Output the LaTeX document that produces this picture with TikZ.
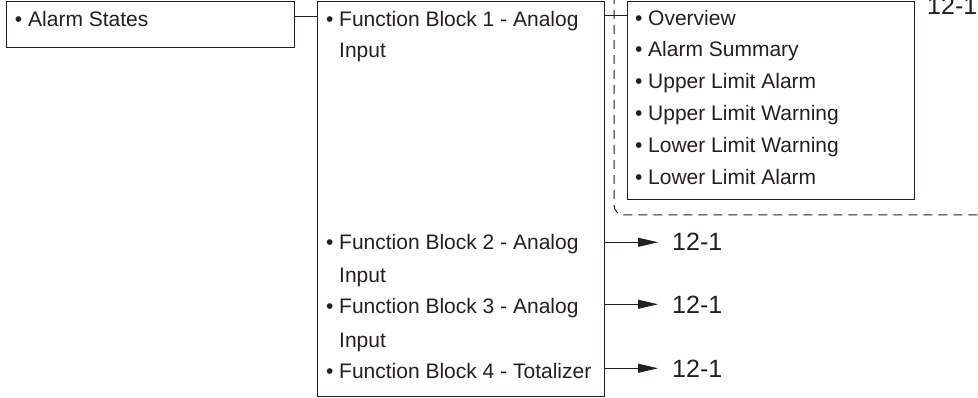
\documentclass[tikz,border=0pt]{standalone}
\usepackage{fontspec}
\setmainfont{Liberation Sans}
\usetikzlibrary{arrows.meta}
\definecolor{ink}{HTML}{231F20}
\tikzset{
  box/.style={draw=ink, line width=1pt, rectangle, inner sep=0pt, anchor=north west},
  item/.style={anchor=base west, inner sep=0pt, text=ink, font=\fontsize{21}{25}\selectfont},
  ref/.style={anchor=base west, inner sep=0pt, text=ink, font=\fontsize{25}{30}\selectfont},
  link/.style={draw=ink, line width=1pt},
  jump/.style={draw=ink, line width=1pt, -{Triangle[length=20pt,width=9pt]}},
  group/.style={draw=ink, line width=1pt, dash pattern=on 9pt off 6pt, rounded corners=10pt}
}
\begin{document}
\begin{tikzpicture}[x=1pt,y=-1pt]
\useasboundingbox (0,0) rectangle (978,398);
% boxes
\node[box, minimum width=288pt, minimum height=46pt] (A) at (6,1) {};
\node[box, minimum width=287pt, minimum height=395pt] (B) at (317,1) {};
\node[box, minimum width=287pt, minimum height=198pt] (C) at (627,1) {};
% dashed grouping
\draw[group] (614,-5) -- (614,215) -- (990,215);
% texts
\node[item] (a1) at (14.8,27) {• Alarm States};
\node[item] (b1) at (325.8,27) {• Function Block 1 - Analog};
\node[item] (b1i) at (339,58) {Input};
\node[item] (b2) at (325.8,250) {• Function Block 2 - Analog};
\node[item] (b2i) at (339,283) {Input};
\node[item] (b3) at (325.8,314) {• Function Block 3 - Analog};
\node[item] (b3i) at (339,347) {Input};
\node[item] (b4) at (325.8,378) {• Function Block 4 - Totalizer};
\node[item] (c1) at (634.8,26) {• Overview};
\node[item] (c2) at (634.8,57) {• Alarm Summary};
\node[item] (c3) at (634.8,89) {• Upper Limit Alarm};
\node[item] (c4) at (634.8,121) {• Upper Limit Warning};
\node[item] (c5) at (634.8,153) {• Lower Limit Warning};
\node[item] (c6) at (634.8,185) {• Lower Limit Alarm};
% references
\node[ref] (r0) at (927,15) {12-1};
\node[ref] (r2) at (672,251) {12-1};
\node[ref] (r3) at (672,313) {12-1};
\node[ref] (r4) at (672,377) {12-1};
% connectors
\coordinate (ab) at (294,17);
\draw[link] (A.east |- ab) -- (B.west |- ab);
\coordinate (bc) at (604,16);
\draw[link] (B.east |- bc) -- (C.west |- bc);
\draw[jump] (B.east |- r2.west) -- ([xshift=-14pt]r2.west);
\draw[jump] (B.east |- r3.west) -- ([xshift=-14pt]r3.west);
\draw[jump] (B.east |- r4.west) -- ([xshift=-14pt]r4.west);
\end{tikzpicture}
\end{document}
